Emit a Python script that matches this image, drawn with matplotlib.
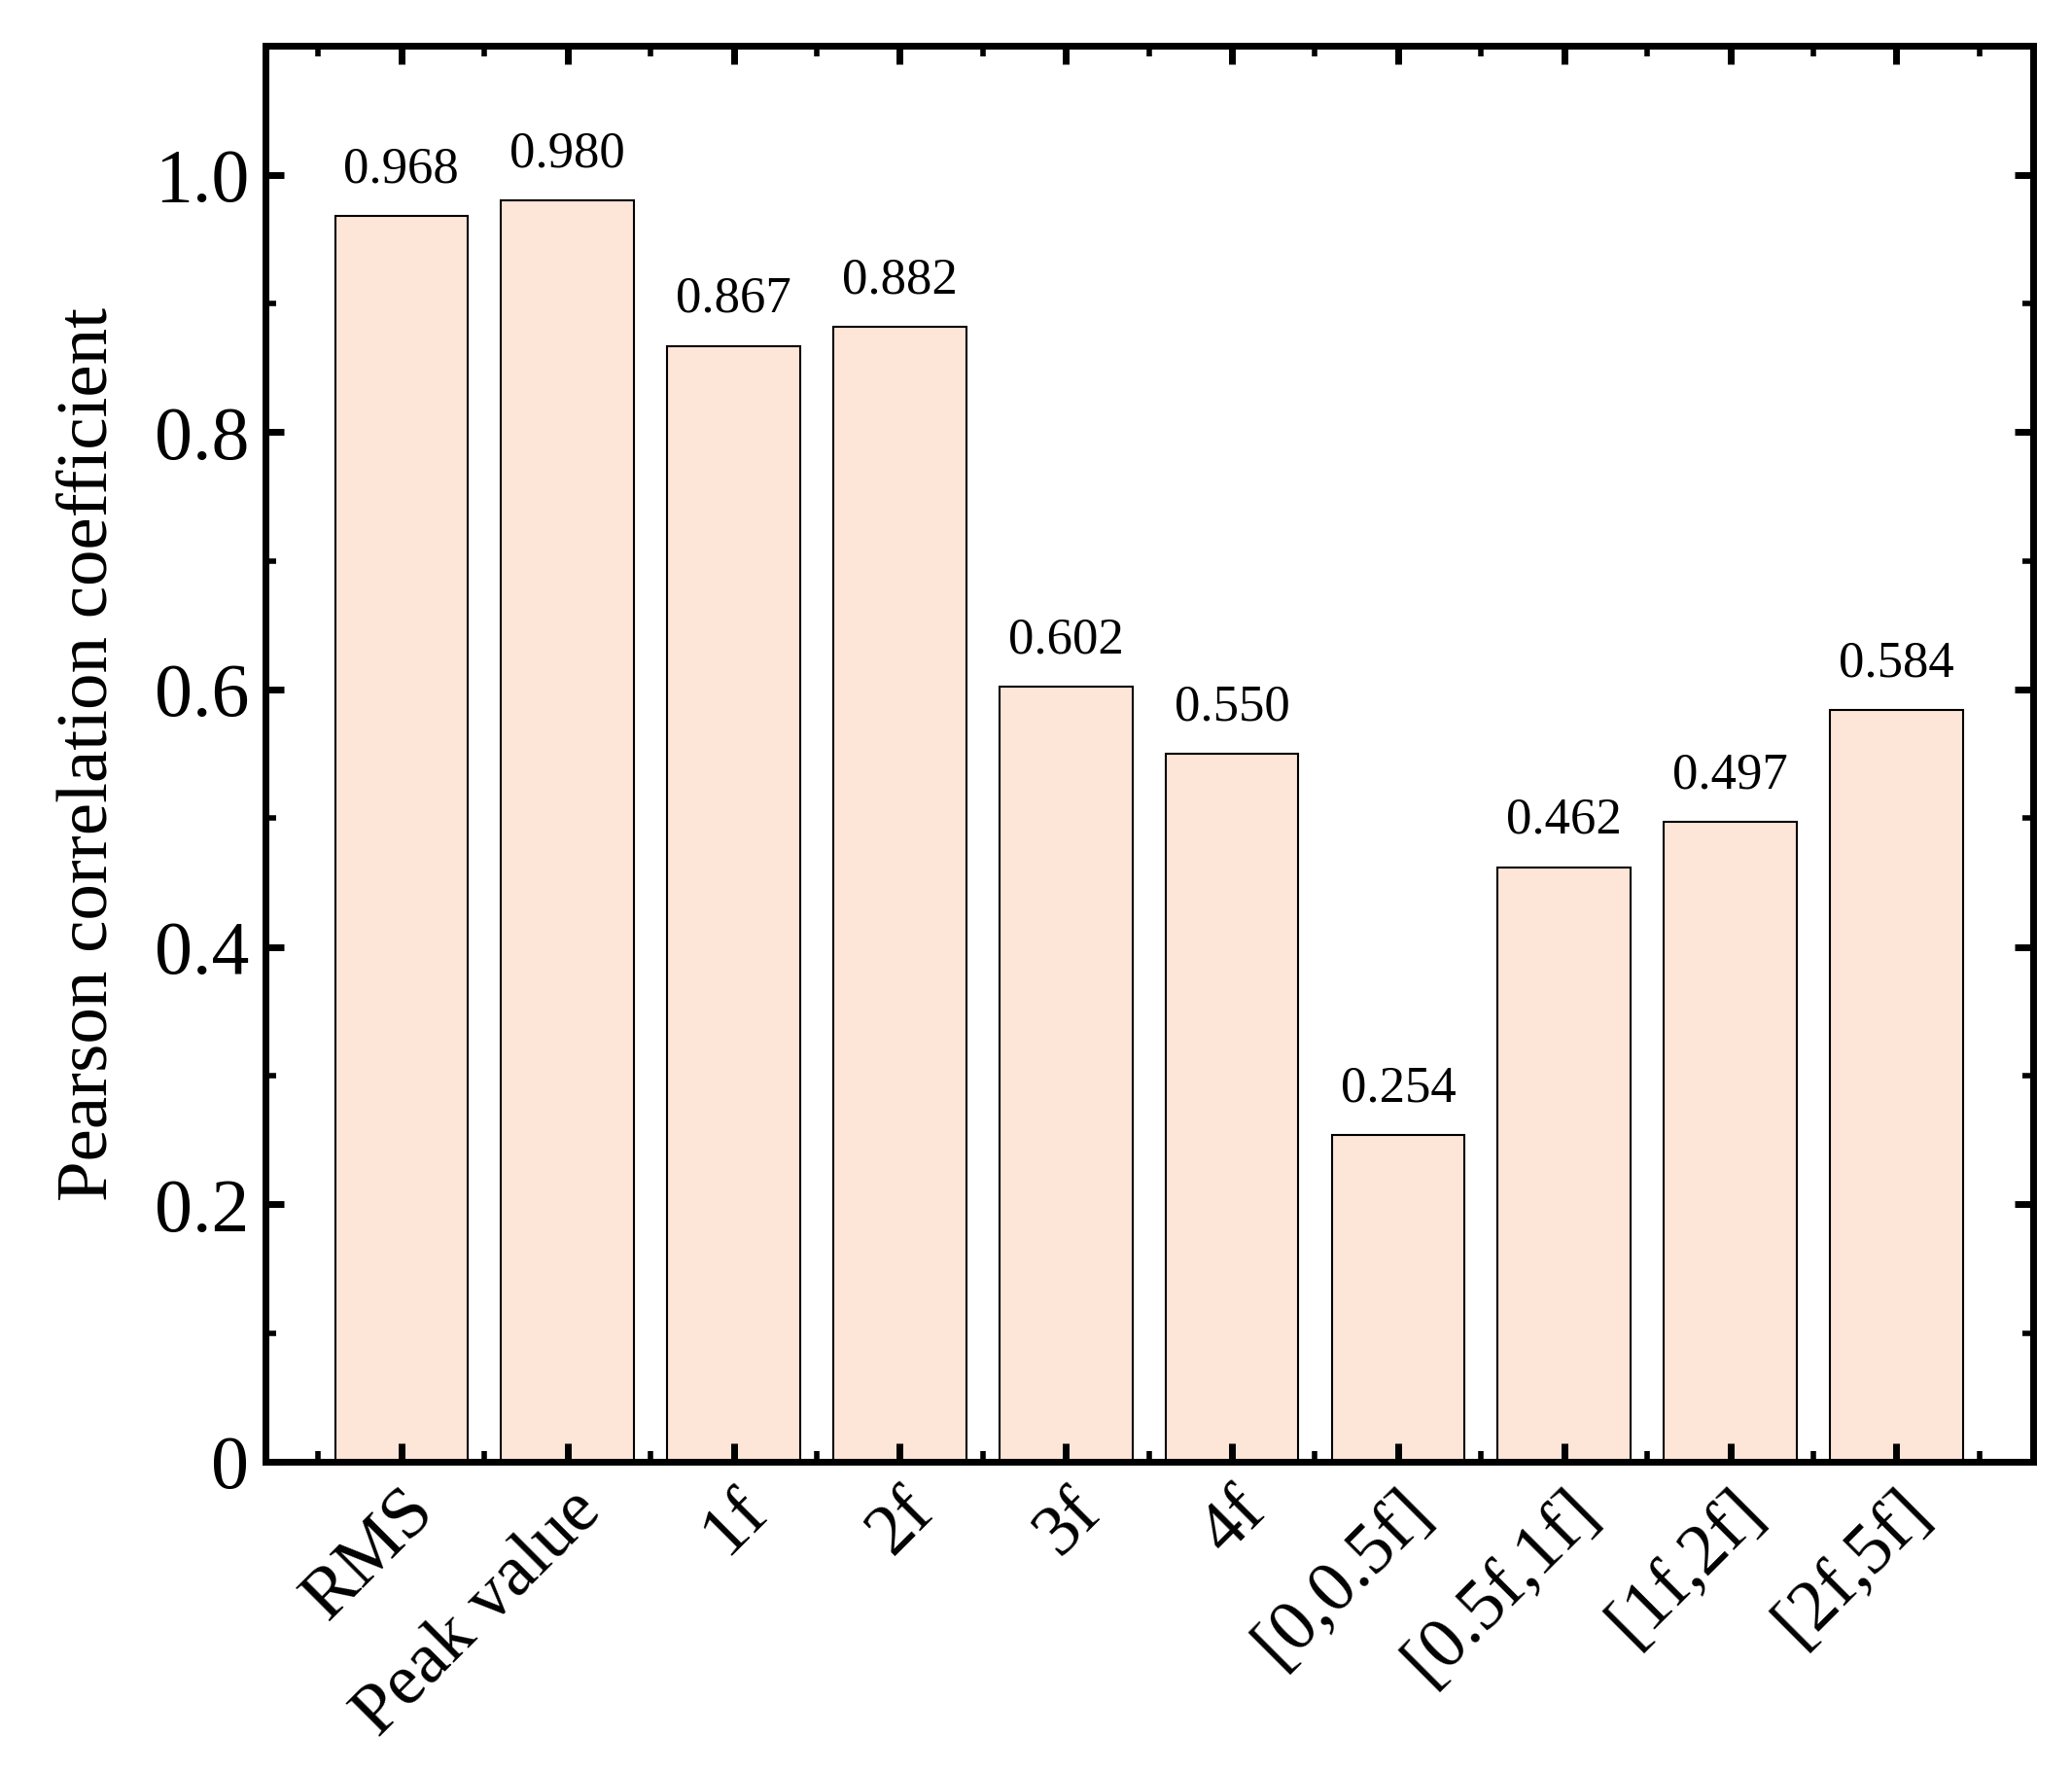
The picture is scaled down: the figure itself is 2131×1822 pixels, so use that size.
import matplotlib
matplotlib.use("Agg")
import matplotlib.pyplot as plt
from matplotlib.ticker import MultipleLocator, FixedLocator

categories = ["RMS", "Peak value", "1f", "2f", "3f", "4f", "[0,0.5f]", "[0.5f,1f]", "[1f,2f]", "[2f,5f]"]
values = [0.968, 0.980, 0.867, 0.882, 0.602, 0.550, 0.254, 0.462, 0.497, 0.584]
ytick_labels = ["0", "0.2", "0.4", "0.6", "0.8", "1.0"]

plt.rcParams['font.family'] = ['Liberation Serif', 'DejaVu Serif']
fig = plt.figure(figsize=(21.31, 18.22), dpi=100)
ax = fig.add_axes([0.128, 0.175, 0.853, 0.799])
x = list(range(len(categories)))
ax.bar(x, values, width=0.8, color="#fde5d8", edgecolor="black", linewidth=1.5)
for xi, v in zip(x, values):
    ax.text(xi, v + 0.018, f"{v:.3f}", ha="center", va="bottom", fontsize=38)
ax.set_xlim(-0.82, len(categories) - 1 + 0.82)
ax.set_ylim(0, 1.1)
ax.set_xticks(x)
ax.set_xticklabels(categories, rotation=45, ha="right", rotation_mode="anchor", fontsize=54)
ax.xaxis.set_minor_locator(FixedLocator([i + 0.5 for i in range(-1, len(categories))]))
ax.set_yticks([0, 0.2, 0.4, 0.6, 0.8, 1.0])
ax.set_yticklabels(ytick_labels, fontsize=56)
ax.yaxis.set_minor_locator(MultipleLocator(0.1))
ax.set_ylabel("Pearson correlation coefficient", fontsize=54, labelpad=24)
for s in ax.spines.values():
    s.set_linewidth(5)
ax.tick_params(which="major", direction="in", length=14, width=5, top=True, right=True, pad=12)
ax.tick_params(which="minor", direction="in", length=8, width=4, top=True, right=True)
fig.savefig("out.png", dpi=100)
